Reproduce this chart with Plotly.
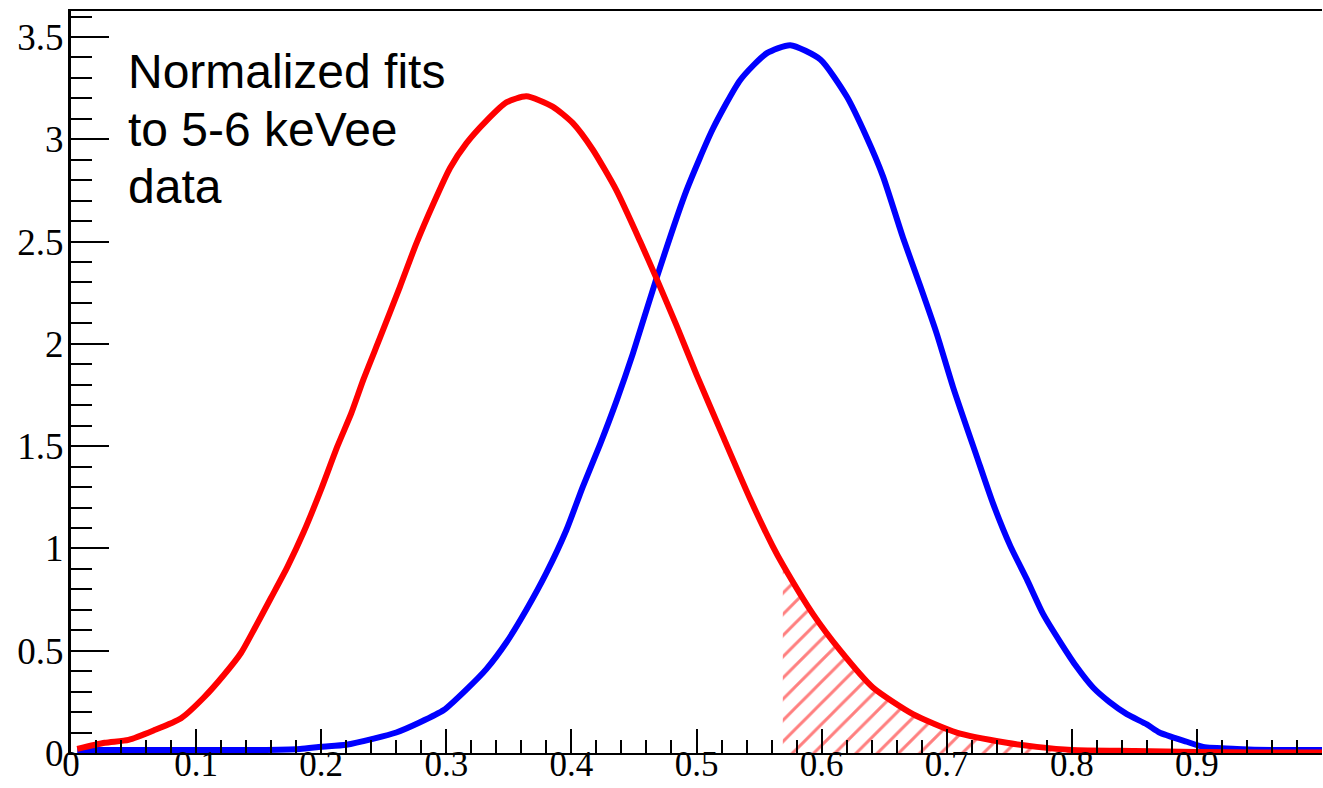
import plotly.graph_objects as go

# ---- data ----
red_x = [0.005, 0.027, 0.046, 0.066, 0.088, 0.106, 0.122, 0.136, 0.146, 0.160,
         0.173, 0.186, 0.200, 0.213, 0.224, 0.234, 0.247, 0.263, 0.276, 0.290,
         0.303, 0.316, 0.332, 0.348, 0.364, 0.385, 0.401, 0.417, 0.436, 0.455,
         0.468, 0.484, 0.500, 0.521, 0.543, 0.561, 0.569, 0.593, 0.615, 0.641,
         0.673, 0.708, 0.748, 0.772, 0.800, 0.850, 0.900, 0.950, 1.000]
red_y = [0.02, 0.05, 0.064, 0.11, 0.17, 0.27, 0.38, 0.49, 0.60, 0.76,
         0.91, 1.08, 1.29, 1.50, 1.66, 1.83, 2.03, 2.28, 2.49, 2.69,
         2.86, 2.98, 3.09, 3.18, 3.21, 3.16, 3.08, 2.95, 2.75, 2.50,
         2.32, 2.09, 1.85, 1.55, 1.24, 1.01, 0.92, 0.68, 0.50, 0.32,
         0.19, 0.10, 0.05, 0.03, 0.015, 0.01, 0.005, 0.003, 0.002]

blue_x = [0.005, 0.050, 0.100, 0.150, 0.183, 0.200, 0.220, 0.242, 0.260, 0.279,
          0.298, 0.316, 0.332, 0.348, 0.364, 0.380, 0.396, 0.409, 0.423, 0.436,
          0.449, 0.468, 0.492, 0.513, 0.535, 0.556, 0.575, 0.599, 0.620, 0.636,
          0.649, 0.665, 0.679, 0.692, 0.705, 0.724, 0.737, 0.751, 0.764, 0.777,
          0.791, 0.804, 0.817, 0.830, 0.844, 0.860, 0.870, 0.892, 0.905, 0.932,
          0.960, 1.000]
blue_y = [0.015, 0.015, 0.015, 0.015, 0.02, 0.03, 0.04, 0.07, 0.10, 0.15,
          0.21, 0.31, 0.41, 0.54, 0.70, 0.88, 1.09, 1.30, 1.51, 1.72,
          1.95, 2.32, 2.75, 3.05, 3.29, 3.42, 3.46, 3.39, 3.21, 3.01,
          2.82, 2.52, 2.28, 2.05, 1.79, 1.45, 1.22, 1.01, 0.85, 0.68,
          0.54, 0.42, 0.32, 0.25, 0.19, 0.14, 0.10, 0.055, 0.03, 0.02,
          0.015, 0.015]

cut_x = 0.569  # start of hatched region

x_tick_vals = [0, 0.1, 0.2, 0.3, 0.4, 0.5, 0.6, 0.7, 0.8, 0.9]
x_tick_text = ["0", "0.1", "0.2", "0.3", "0.4", "0.5", "0.6", "0.7", "0.8", "0.9"]
y_tick_vals = [0, 0.5, 1, 1.5, 2, 2.5, 3, 3.5]
y_tick_text = ["0", "0.5", "1", "1.5", "2", "2.5", "3", "3.5"]

label_lines = ["Normalized fits", "to 5-6 keVee", "data"]

# ---- figure ----
hatch_x = [x for x in red_x if x >= cut_x]
hatch_y = [y for x, y in zip(red_x, red_y) if x >= cut_x]

fig = go.Figure()
fig.add_trace(go.Scatter(
    x=hatch_x, y=hatch_y, mode="none", fill="tozeroy",
    fillcolor="rgba(0,0,0,0)",
    fillpattern=dict(shape="/", fgcolor="#ff0000", bgcolor="rgba(0,0,0,0)",
                     size=15, solidity=0.2),
    hoverinfo="skip", showlegend=False))
fig.add_trace(go.Scatter(x=blue_x, y=blue_y, mode="lines",
                         line=dict(color="#0000ff", width=6, shape="spline", smoothing=0.6),
                         showlegend=False))
fig.add_trace(go.Scatter(x=red_x, y=red_y, mode="lines",
                         line=dict(color="#ff0000", width=6, shape="spline", smoothing=0.6),
                         showlegend=False))

W, H = 1323, 788
L, R, T, B = 71, 1, 11, 35
plot_h = H - T - B

y_tick_font = dict(family="Liberation Serif", size=37, color="black")
x_tick_font = dict(family="Liberation Serif", size=35, color="black")

fig.update_layout(
    width=W, height=H,
    margin=dict(l=L, r=R, t=T, b=B, pad=0),
    paper_bgcolor="white", plot_bgcolor="white",
    showlegend=False,
    xaxis=dict(range=[0, 1], showgrid=False, zeroline=False, automargin=False,
               showline=True, linecolor="black", linewidth=2, mirror=True,
               ticks="inside", ticklen=24, tickwidth=2, tickcolor="black",
               tickmode="array", tickvals=x_tick_vals, ticktext=x_tick_text,
               tickfont=x_tick_font, ticklabelstandoff=-21,
               minor=dict(tickmode="linear", tick0=0, dtick=0.02, ticks="inside",
                          ticklen=13, tickwidth=2, tickcolor="black", showgrid=False)),
    yaxis=dict(range=[0, 3.627], showgrid=False, zeroline=False, automargin=False,
               showline=True, linecolor="black", linewidth=3, mirror=False,
               ticks="inside", ticklen=38, tickwidth=2, tickcolor="black",
               tickmode="array", tickvals=y_tick_vals, ticktext=y_tick_text,
               tickfont=y_tick_font, ticklabelstandoff=-3,
               minor=dict(tickmode="linear", tick0=0, dtick=0.1, ticks="inside",
                          ticklen=21, tickwidth=2, tickcolor="black", showgrid=False)),
)

# text block, three lines, left aligned
baselines_px = [88, 146, 203]
fsize = 48
for line, base in zip(label_lines, baselines_px):
    center_px = base - 0.3465 * fsize
    fig.add_annotation(
        text=line, xref="paper", yref="paper",
        x=(126 - L) / (W - L - R), y=1 - (center_px - T) / plot_h,
        xanchor="left", yanchor="middle", showarrow=False, align="left",
        font=dict(family="Liberation Sans", size=fsize, color="black"))

fig.write_html("out.html")
